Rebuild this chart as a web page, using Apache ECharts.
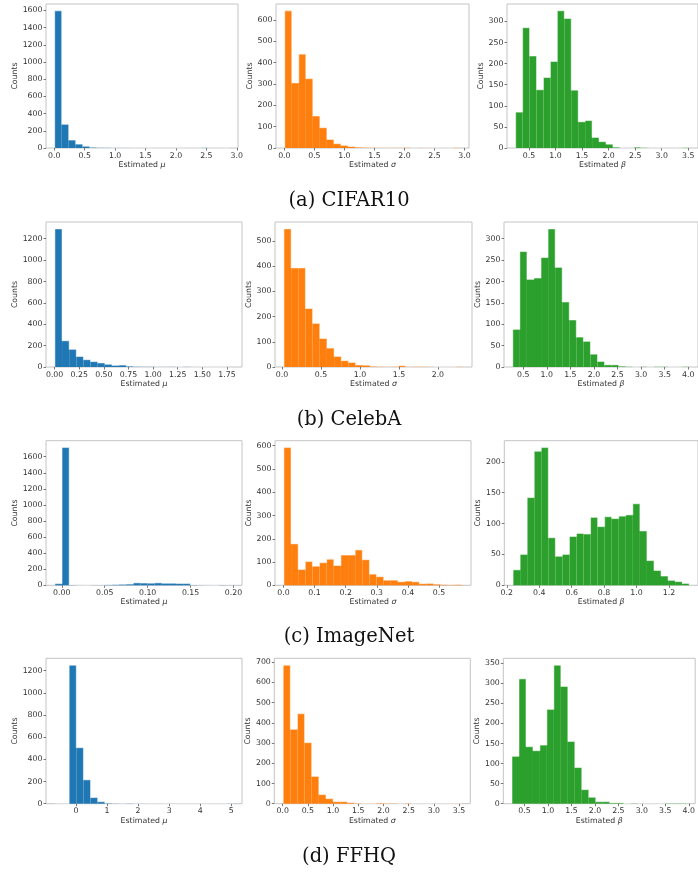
<!DOCTYPE html>
<html><head><meta charset="utf-8">
<script src="https://cdn.jsdelivr.net/npm/echarts@6/dist/echarts.min.js"></script>
<style>html,body{margin:0;padding:0;background:#fff}#c{width:698px;height:876px}</style>
</head><body><div id="c"></div>
<script>
// ---------------- DATA (25-bin histograms: [first edge, last edge] + counts) ----------------
// (a) CIFAR10
const cifarMuRange = [0.007, 2.877];
const cifarMuCounts = [1595,275,92,45,20,8,4,3,1,1,1,0,0,0,0,0,0,0,0,0,0,3,0,0,0];
const cifarSigmaRange = [0.007, 2.93];
const cifarSigmaCounts = [643,305,440,325,150,95,40,20,12,7,4,3,2,1,1,1,1,2,0,1,0,0,0,0,2];
const cifarBetaRange = [0.25, 3.52];
const cifarBetaCounts = [85,285,218,138,167,205,325,307,137,62,65,25,15,9,2,0,0,2,1,0,0,0,0,0,1];
// (b) CelebA
const celebaMuRange = [0.003, 1.812];
const celebaMuCounts = [1292,245,165,98,68,50,38,25,15,18,8,5,3,3,1,1,2,0,2,0,0,0,0,0,1];
const celebaSigmaRange = [0.025, 2.323];
const celebaSigmaCounts = [548,393,393,232,173,113,75,42,25,18,8,7,3,2,1,2,5,1,2,2,1,0,0,0,2];
const celebaBetaRange = [0.28, 4.02];
const celebaBetaCounts = [88,270,205,208,256,323,233,152,110,70,60,30,13,5,5,2,1,0,1,0,1,1,0,0,1];
// (c) ImageNet
const imagenetMuRange = [-0.008, 0.1995];
const imagenetMuCounts = [20,1714,3,1,0,2,2,5,8,12,15,30,28,26,30,25,25,22,22,4,2,1,0,3,2];
const imagenetSigmaRange = [0.0016, 0.574];
const imagenetSigmaCounts = [592,178,68,102,82,97,112,85,130,130,152,110,48,37,22,22,15,18,15,7,8,5,3,2,3];
const imagenetBetaRange = [0.239, 1.325];
const imagenetBetaCounts = [25,50,142,217,223,77,47,50,79,84,83,110,95,111,108,112,114,132,88,40,24,15,8,6,3];
// (d) FFHQ
const ffhqMuRange = [-0.68, 5.06];
const ffhqMuCounts = [1,0,1249,505,215,55,18,5,3,1,3,0,1,0,0,0,0,0,0,0,0,0,0,0,2];
const ffhqSigmaRange = [0.011, 3.546];
const ffhqSigmaCounts = [685,368,445,302,135,45,25,10,10,5,2,1,1,3,2,2,0,2,0,0,0,0,0,0,1];
const ffhqBetaRange = [0.235, 3.95];
const ffhqBetaCounts = [118,311,142,132,146,235,345,292,155,90,35,16,5,5,2,2,0,1,0,0,0,0,1,1,1];

// tick labels
const cifarMuXTicks = ['0.0','0.5','1.0','1.5','2.0','2.5','3.0'];
const cifarSigmaXTicks = ['0.0','0.5','1.0','1.5','2.0','2.5','3.0'];
const cifarBetaXTicks = ['0.5','1.0','1.5','2.0','2.5','3.0','3.5'];
const celebaMuXTicks = ['0.00','0.25','0.50','0.75','1.00','1.25','1.50','1.75'];
const celebaSigmaXTicks = ['0.0','0.5','1.0','1.5','2.0'];
const celebaBetaXTicks = ['0.5','1.0','1.5','2.0','2.5','3.0','3.5','4.0'];
const imagenetMuXTicks = ['0.00','0.05','0.10','0.15','0.20'];
const imagenetSigmaXTicks = ['0.0','0.1','0.2','0.3','0.4','0.5'];
const imagenetBetaXTicks = ['0.2','0.4','0.6','0.8','1.0','1.2'];
const ffhqMuXTicks = ['0','1','2','3','4','5'];
const ffhqSigmaXTicks = ['0.0','0.5','1.0','1.5','2.0','2.5','3.0','3.5'];
const ffhqBetaXTicks = ['0.5','1.0','1.5','2.0','2.5','3.0','3.5','4.0'];

const cifarMuYTicks = [0,200,400,600,800,1000,1200,1400,1600];
const cifarSigmaYTicks = [0,100,200,300,400,500,600];
const cifarBetaYTicks = [0,50,100,150,200,250,300];
const celebaMuYTicks = [0,200,400,600,800,1000,1200];
const celebaSigmaYTicks = [0,100,200,300,400,500];
const celebaBetaYTicks = [0,50,100,150,200,250,300];
const imagenetMuYTicks = [0,200,400,600,800,1000,1200,1400,1600];
const imagenetSigmaYTicks = [0,100,200,300,400,500,600];
const imagenetBetaYTicks = [0,50,100,150,200];
const ffhqMuYTicks = [0,200,400,600,800,1000,1200];
const ffhqSigmaYTicks = [0,100,200,300,400,500,600,700];
const ffhqBetaYTicks = [0,50,100,150,200,250,300,350];

const captions = ['(a) CIFAR10', '(b) CelebA', '(c) ImageNet', '(d) FFHQ'];
const paramNames = ['μ', 'σ', 'β'];

// ---------------- LAYOUT ----------------
const COLORS = ['#1f77b4', '#ff7f0e', '#2ca02c'];
const rows = [
  {top: 4, h: 144, lefts: [46, 276, 507], widths: [192, 193, 193], capY: 201,
   ranges: [cifarMuRange, cifarSigmaRange, cifarBetaRange], counts: [cifarMuCounts, cifarSigmaCounts, cifarBetaCounts],
   xt: [cifarMuXTicks, cifarSigmaXTicks, cifarBetaXTicks], yt: [cifarMuYTicks, cifarSigmaYTicks, cifarBetaYTicks]},
  {top: 222, h: 145, lefts: [46, 275, 504], widths: [196, 197, 196], capY: 420,
   ranges: [celebaMuRange, celebaSigmaRange, celebaBetaRange], counts: [celebaMuCounts, celebaSigmaCounts, celebaBetaCounts],
   xt: [celebaMuXTicks, celebaSigmaXTicks, celebaBetaXTicks], yt: [celebaMuYTicks, celebaSigmaYTicks, celebaBetaYTicks]},
  {top: 440.7, h: 144.6, lefts: [46, 275, 504.3], widths: [196, 196, 196], capY: 637,
   ranges: [imagenetMuRange, imagenetSigmaRange, imagenetBetaRange], counts: [imagenetMuCounts, imagenetSigmaCounts, imagenetBetaCounts],
   xt: [imagenetMuXTicks, imagenetSigmaXTicks, imagenetBetaXTicks], yt: [imagenetMuYTicks, imagenetSigmaYTicks, imagenetBetaYTicks]},
  {top: 658.3, h: 145.4, lefts: [46, 274.3, 503.3], widths: [196, 196, 196], capY: 857,
   ranges: [ffhqMuRange, ffhqSigmaRange, ffhqBetaRange], counts: [ffhqMuCounts, ffhqSigmaCounts, ffhqBetaCounts],
   xt: [ffhqMuXTicks, ffhqSigmaXTicks, ffhqBetaXTicks], yt: [ffhqMuYTicks, ffhqSigmaYTicks, ffhqBetaYTicks]}
];

const FONT = 'DejaVu Sans';
const FS = 7.8;
const TXT = '#333';

function renderItem(params, api) {
  const x0 = api.value(0), x1 = api.value(1), h = api.value(2), hp = api.value(3), last = api.value(4);
  const tl = api.coord([x0, h]);
  const br = api.coord([x1, 0]);
  const pv = api.coord([x0, hp]);
  const pts = [[tl[0], pv[1]], [tl[0], tl[1]], [br[0], tl[1]]];
  if (last) pts.push([br[0], br[1]]);
  return {
    type: 'group',
    children: [
      {type: 'rect', shape: {x: tl[0], y: tl[1], width: br[0] - tl[0], height: br[1] - tl[1]},
       style: {fill: api.visual('color')}},
      {type: 'polyline', shape: {points: pts},
       style: {stroke: 'rgba(255,255,255,0.5)', fill: null, lineWidth: 1}}
    ]
  };
}

const grid = [], xAxis = [], yAxis = [], series = [], graphic = [];
rows.forEach((r, ri) => {
  for (let c = 0; c < 3; c++) {
    const idx = ri * 3 + c;
    const [a, b] = r.ranges[c];
    const counts = r.counts[c];
    const n = counts.length, w = (b - a) / n;
    const pad = 0.05 * (b - a);
    const ymax = 1.05 * Math.max(...counts);
    const xt = r.xt[c];
    const xv = xt.map(Number);
    grid.push({left: r.lefts[c], top: r.top, width: r.widths[c], height: r.h,
      show: true, borderColor: '#c4c4c4', borderWidth: 1, backgroundColor: '#fff', containLabel: false});
    xAxis.push({
      type: 'value', gridIndex: idx, min: a - pad, max: b + pad,
      axisLine: {show: false, onZero: false}, splitLine: {show: false},
      axisTick: {show: true, customValues: xv, length: 2.5, lineStyle: {color: '#555', width: 0.8}},
      axisLabel: {customValues: xv, margin: 3.5, fontFamily: FONT, fontSize: FS, color: TXT,
        formatter: v => { let k = 0; xv.forEach((t, i) => { if (Math.abs(t - v) < Math.abs(xv[k] - v)) k = i; }); return xt[k]; }},
      name: '{n|Estimated }{g|' + paramNames[c] + '}', nameLocation: 'middle', nameGap: 13,
      nameTextStyle: {rich: {n: {fontFamily: FONT, fontSize: FS, color: TXT},
                             g: {fontFamily: FONT, fontSize: FS, color: TXT, fontStyle: 'italic'}}}
    });
    const yv = r.yt[c];
    yAxis.push({
      type: 'value', gridIndex: idx, min: 0, max: ymax,
      axisLine: {show: false, onZero: false}, splitLine: {show: false},
      axisTick: {show: true, customValues: yv, length: 2.5, lineStyle: {color: '#555', width: 0.8}},
      axisLabel: {customValues: yv, margin: 3.5, fontFamily: FONT, fontSize: FS, color: TXT,
        formatter: v => String(Math.round(v))},
      name: 'Counts', nameLocation: 'middle', nameGap: 16,
      nameTextStyle: {fontFamily: FONT, fontSize: FS, color: TXT}
    });
    const data = counts.map((v, i) => [a + i * w, a + (i + 1) * w, v, i === 0 ? 0 : counts[i - 1], i === n - 1 ? 1 : 0]);
    series.push({type: 'custom', xAxisIndex: idx, yAxisIndex: idx, renderItem: renderItem,
      itemStyle: {color: COLORS[c]}, data: data, animation: false, silent: true});
  }
  graphic.push({type: 'text', x: 349, y: r.capY, style: {text: captions[ri], fontFamily: 'DejaVu Serif',
    fontSize: 19.5, fill: '#111', textAlign: 'center', textVerticalAlign: 'middle'}});
});

const chart = echarts.init(document.getElementById('c'), null, {renderer: 'canvas'});
chart.setOption({animation: false, grid, xAxis, yAxis, series, graphic});
</script></body></html>
